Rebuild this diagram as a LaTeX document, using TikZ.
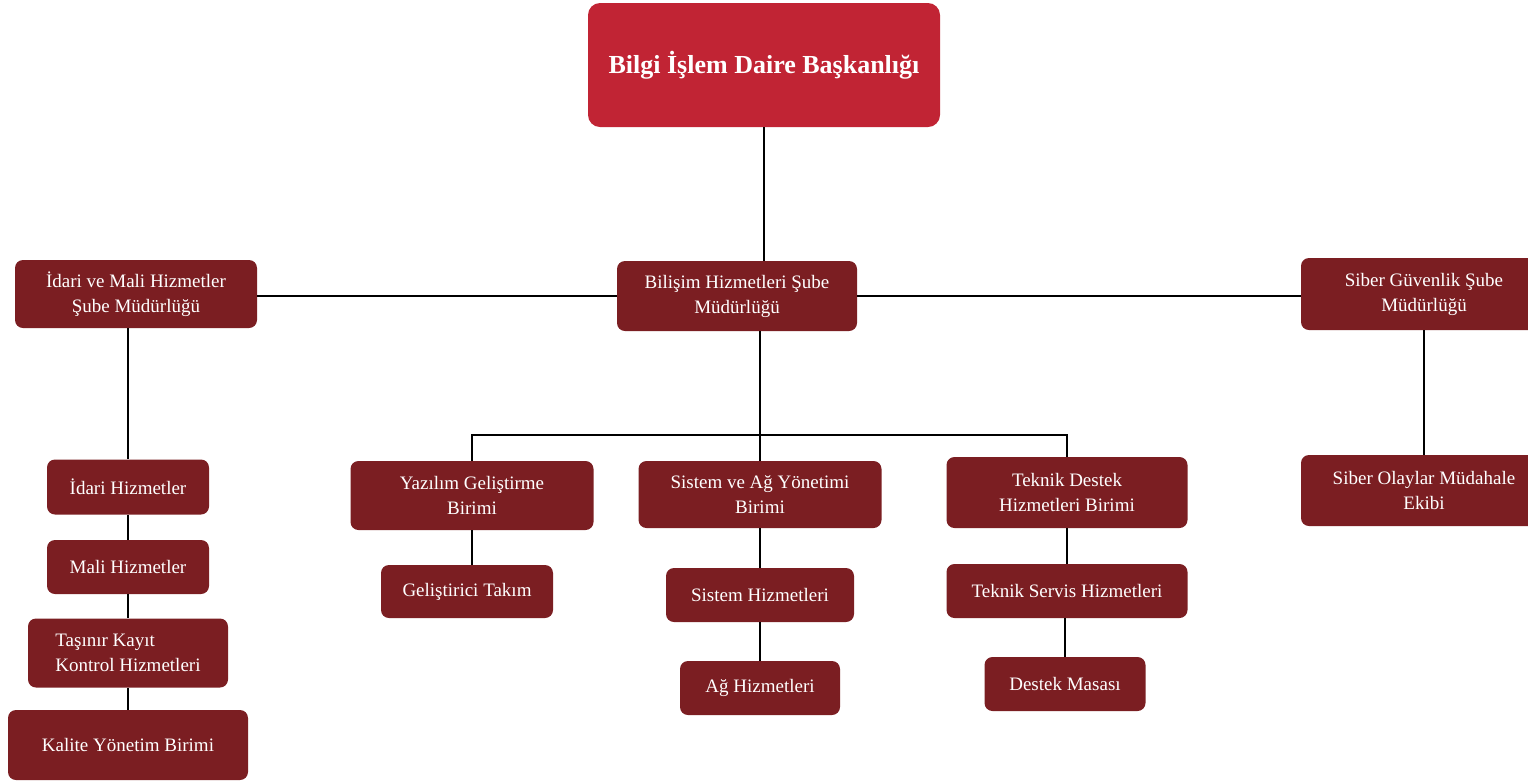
\documentclass[tikz,border=0pt]{standalone}
\usepackage{fontspec}
\setmainfont{Liberation Serif}
\definecolor{headred}{HTML}{C12434}
\definecolor{unitred}{HTML}{7B1E22}
\tikzset{
  unit/.style={fill=unitred, rounded corners=4pt, text=white, align=center,
    inner sep=0pt, font=\fontsize{9.5}{12.5}\selectfont},
  link/.style={line width=0.8pt, black}
}
\begin{document}
\begin{tikzpicture}[x=0.5pt,y=-0.5pt]
\clip (0,0) rectangle (1528,783);

% head
\node [unit, fill=headred, rounded corners=6pt, minimum width=176pt, minimum height=62pt,
  font=\fontsize{13}{15}\selectfont\bfseries] (daire) at (764,65) {Bilgi İşlem Daire Başkanlığı};

% branch offices
\node [unit, minimum width=121pt, minimum height=34pt] (idarimud) at (136,294) {İdari ve Mali Hizmetler\\Şube Müdürlüğü};
\node [unit, minimum width=120pt, minimum height=35pt] (bilisim) at (737,296) {Bilişim Hizmetleri Şube\\Müdürlüğü};
\node [unit, minimum width=123pt, minimum height=36pt] (siber) at (1424,294) {Siber Güvenlik Şube\\Müdürlüğü};

% left column
\node [unit, minimum width=81pt, minimum height=27.5pt] (idarihiz) at (128,487) {İdari Hizmetler};
\node [unit, minimum width=81pt, minimum height=27pt] (malihiz) at (128,567) {Mali Hizmetler};
\node [unit, minimum width=100pt, minimum height=34.5pt, align=left] (tasinir) at (128,653) {Taşınır Kayıt\\Kontrol Hizmetleri};
\node [unit, minimum width=120pt, minimum height=35pt] (kalite) at (128,745) {Kalite Yönetim Birimi};

% middle units
\node [unit, minimum width=121.5pt, minimum height=34.5pt] (yazilim) at (472,495.5) {Yazılım Geliştirme\\Birimi};
\node [unit, minimum width=86pt, minimum height=26.5pt] (gelistirici) at (467,591.5) {Geliştirici Takım};
\node [unit, minimum width=121.5pt, minimum height=33.5pt] (sistem) at (760,494.5) {Sistem ve Ağ Yönetimi\\Birimi};
\node [unit, minimum width=94pt, minimum height=27pt] (sistemhiz) at (760,595) {Sistem Hizmetleri};
\node [unit, minimum width=80pt, minimum height=27pt] (aghiz) at (760,688) {Ağ Hizmetleri};
\node [unit, minimum width=120.5pt, minimum height=35.5pt] (teknik) at (1067,492.5) {Teknik Destek\\Hizmetleri Birimi};
\node [unit, minimum width=120.5pt, minimum height=27pt] (servis) at (1067,591) {Teknik Servis Hizmetleri};
\node [unit, minimum width=80.5pt, minimum height=27pt] (destek) at (1065,684) {Destek Masası};

% right column
\node [unit, minimum width=123pt, minimum height=35.5pt] (olaylar) at (1424,490.5) {Siber Olaylar Müdahale\\Ekibi};

% connectors
\coordinate (fork) at (760,435);
\draw [link] (daire.south) -- (daire.south |- bilisim.north);
\draw [link] (bilisim.west) -- (bilisim.west -| idarimud.east);
\draw [link] (bilisim.east) -- (bilisim.east -| siber.west);
\draw [link] (fork |- bilisim.south) -- (fork);
\draw [link] (yazilim.north) |- (fork) -| (teknik.north);
\draw [link] (fork) -- (sistem.north);
\draw [link] (idarimud.south -| idarihiz.north) -- (idarihiz.north);
\draw [link] (idarihiz.south) -- (malihiz.north);
\draw [link] (malihiz.south) -- (tasinir.north);
\draw [link] (tasinir.south) -- (kalite.north);
\draw [link] (yazilim.south) -- (yazilim.south |- gelistirici.north);
\draw [link] (sistem.south) -- (sistemhiz.north);
\draw [link] (sistemhiz.south) -- (aghiz.north);
\draw [link] (teknik.south) -- (servis.north);
\draw [link] (servis.south -| destek.north) -- (destek.north);
\draw [link] (siber.south) -- (olaylar.north);

\end{tikzpicture}
\end{document}
